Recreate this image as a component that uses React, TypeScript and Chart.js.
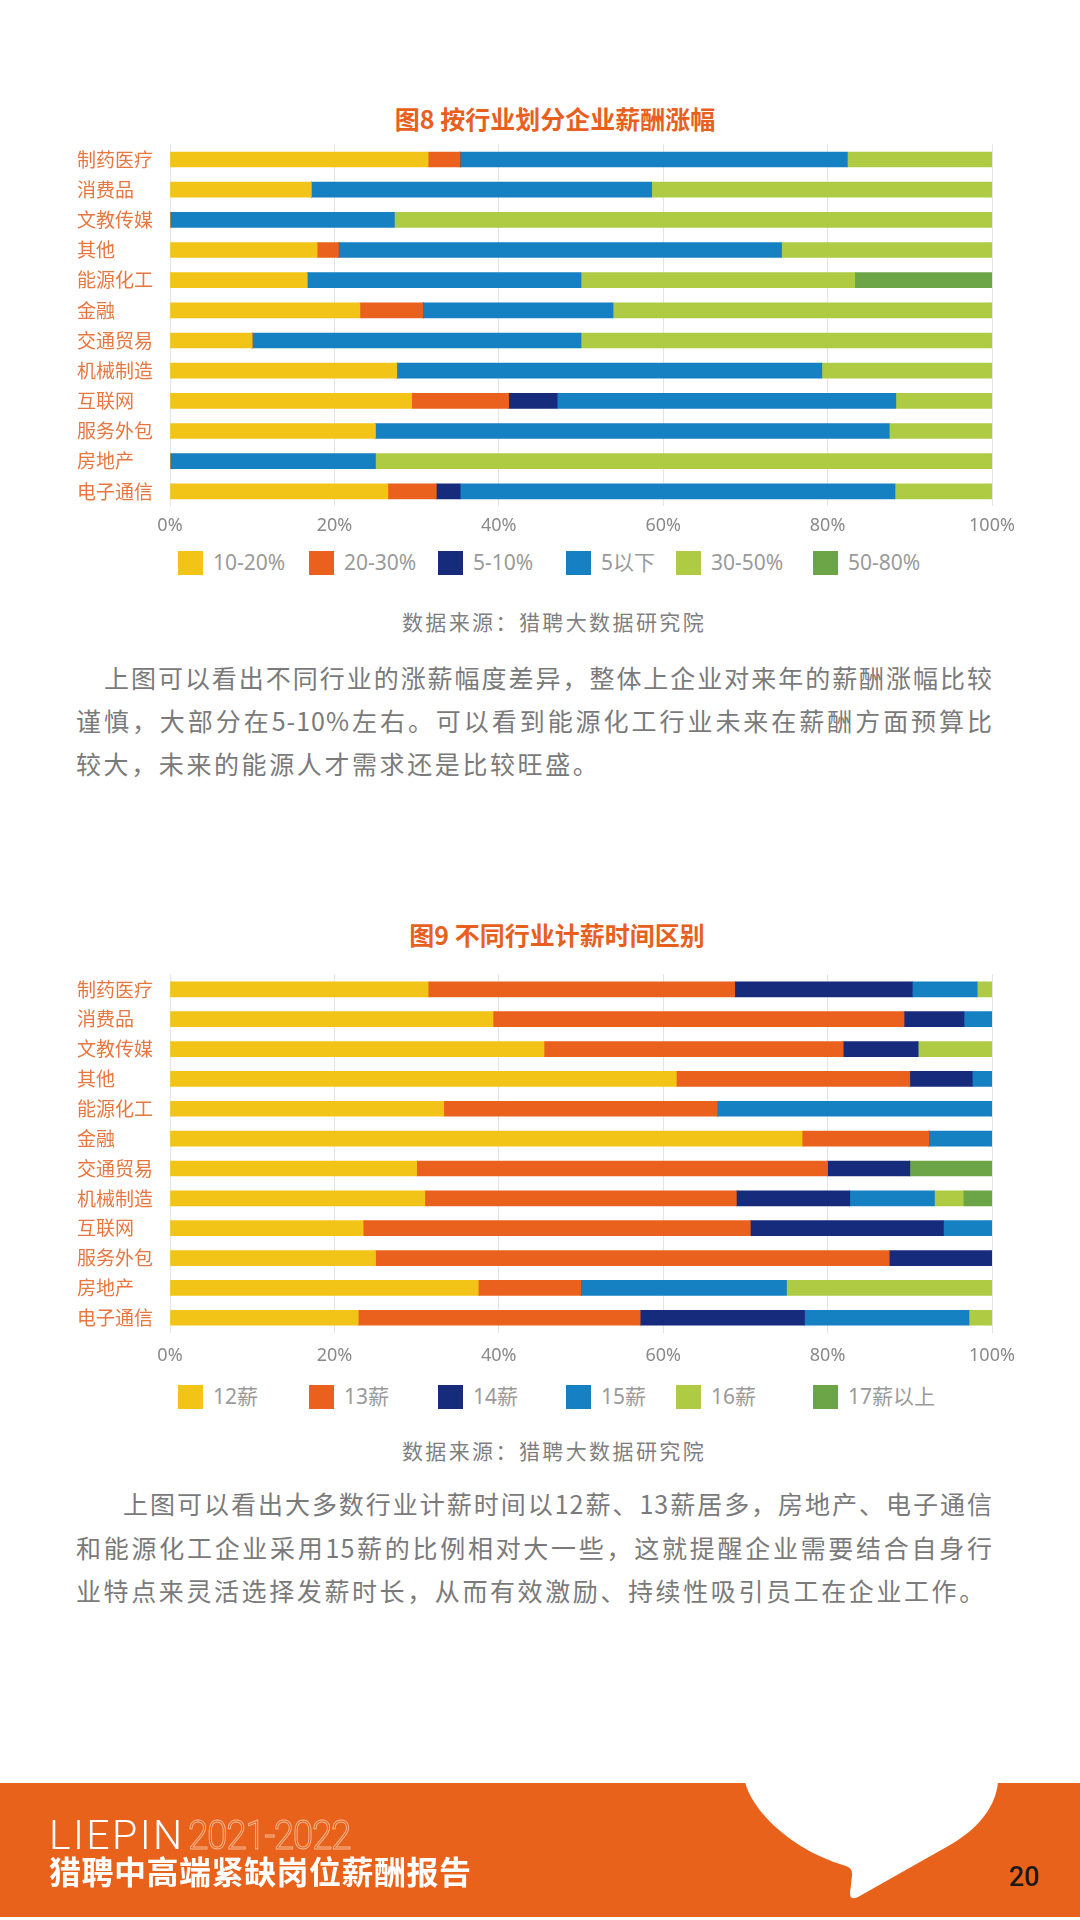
import React, { useEffect, useRef } from 'react';
import { Chart, registerables } from 'chart.js';

Chart.register(...registerables);

const industries = ['制药医疗', '消费品', '文教传媒', '其他', '能源化工', '金融', '交通贸易', '机械制造', '互联网', '服务外包', '房地产', '电子通信'];

// 图8 按行业划分企业薪酬涨幅
const fig8Series = ['10-20%', '20-30%', '5-10%', '5以下', '30-50%', '50-80%'];
const fig8Raise10to20 = [31.4, 17.2, 0, 17.9, 16.7, 23.1, 10, 27.6, 29.4, 25, 0, 26.5];
const fig8Raise20to30 = [3.9, 0, 0, 2.6, 0, 7.7, 0, 0, 11.8, 0, 0, 5.9];
const fig8Raise5to10 = [0, 0, 0, 0, 0, 0, 0, 0, 5.9, 0, 0, 2.9];
const fig8RaiseBelow5 = [47.1, 41.4, 27.3, 53.9, 33.3, 23.1, 40, 51.7, 41.2, 62.5, 25, 52.9];
const fig8Raise30to50 = [17.6, 41.4, 72.7, 25.6, 33.3, 46.1, 50, 20.7, 11.7, 12.5, 75, 11.8];
const fig8Raise50to80 = [0, 0, 0, 0, 16.7, 0, 0, 0, 0, 0, 0, 0];

// 图9 不同行业计薪时间区别
const fig9Series = ['12薪', '13薪', '14薪', '15薪', '16薪', '17薪以上'];
const fig9Pay12 = [31.4, 39.3, 45.5, 61.6, 33.3, 76.9, 30, 31.0, 23.5, 25, 37.5, 22.9];
const fig9Pay13 = [37.3, 50.0, 36.4, 28.4, 33.3, 15.4, 50, 37.9, 47.1, 62.5, 12.5, 34.3];
const fig9Pay14 = [21.6, 7.3, 9.1, 7.6, 0, 0, 10, 13.8, 23.5, 12.5, 0, 20.0];
const fig9Pay15 = [7.9, 3.4, 0, 2.4, 33.4, 7.7, 0, 10.3, 5.9, 0, 25, 20.0];
const fig9Pay16 = [1.8, 0, 9.0, 0, 0, 0, 0, 3.5, 0, 0, 25, 2.8];
const fig9Pay17Plus = [0, 0, 0, 0, 0, 0, 10, 3.5, 0, 0, 0, 0];

const xTickStep = 20;
const xMax = 100;

const palette = ['#F2C417', '#E9611C', '#172B7C', '#1581C2', '#AFCB44', '#6CA547'];

const CJK = "'Noto Sans CJK SC', 'Noto Sans', sans-serif";
const LATIN = "'Noto Sans', 'Noto Sans CJK SC', sans-serif";

type ChartProps = {
  top: number;
  height: number;
  names: string[];
  values: number[][];
  padTop: number;
  padBottom: number;
  tickPad: number;
  axisH: number;
};

function StackedBars(p: ChartProps) {
  const ref = useRef<HTMLCanvasElement>(null);
  useEffect(() => {
    const chart = new Chart(ref.current as HTMLCanvasElement, {
      type: 'bar',
      data: {
        labels: industries,
        datasets: p.names.map((n, i) => ({
          label: n,
          data: p.values[i],
          backgroundColor: palette[i],
          borderWidth: 0,
          barThickness: 15,
        })),
      },
      options: {
        indexAxis: 'y',
        responsive: false,
        animation: false,
        layout: { padding: { left: 77, right: 1080 - 992, top: p.padTop, bottom: p.padBottom } },
        plugins: {
          legend: { display: false },
          tooltip: { enabled: false },
        },
        scales: {
          x: {
            stacked: true,
            min: 0,
            max: xMax,
            ticks: {
              stepSize: xTickStep,
              callback: (v: any) => v + '%',
              color: '#8a8a8a',
              font: { family: LATIN, size: 18 },
              padding: p.tickPad,
              maxRotation: 0,
            },
            grid: { color: '#e4e4e4', drawTicks: false, lineWidth: 1 },
            border: { display: false },
            afterFit: (s: any) => { s.height = p.axisH; },
          },
          y: {
            stacked: true,
            ticks: { crossAlign: 'far', color: '#E8773F', font: { family: CJK, size: 19 } },
            grid: { display: false },
            border: { display: false },
            afterFit: (s: any) => { s.width = 93; },
          },
        },
      } as any,
    });
    return () => chart.destroy();
  }, []);
  return (
    <canvas
      ref={ref}
      width={1080}
      height={p.height}
      style={{ position: 'absolute', left: 0, top: p.top, width: 1080, height: p.height, display: 'block' }}
    />
  );
}

const legendColumns = [178, 309, 438, 566, 676, 813];

function Legend(props: { cy: number; names: string[] }) {
  return (
    <>
      {props.names.map((n, i) => (
        <React.Fragment key={n}>
          <div style={{ position: 'absolute', left: legendColumns[i], top: props.cy - 12, width: 25, height: 24, background: palette[i] }} />
          <div
            style={{
              position: 'absolute',
              left: legendColumns[i] + 35,
              top: props.cy - 11,
              height: 21,
              lineHeight: '21px',
              fontSize: 21,
              fontFamily: LATIN,
              color: '#9a9a9a',
              whiteSpace: 'nowrap',
            }}
          >
            {n}
          </div>
        </React.Fragment>
      ))}
    </>
  );
}

function CenterText(props: { cx: number; cy: number; size: number; color: string; weight?: number; ls?: number; children: React.ReactNode }) {
  const { cx, cy, size, color, weight = 400, ls = 0 } = props;
  return (
    <div
      style={{
        position: 'absolute',
        left: cx - 540,
        width: 1080,
        top: cy - size / 2,
        height: size,
        lineHeight: size + 'px',
        fontSize: size,
        fontFamily: CJK,
        fontWeight: weight,
        color,
        letterSpacing: ls,
        textAlign: 'center',
        whiteSpace: 'nowrap',
      }}
    >
      {props.children}
    </div>
  );
}

function ParaLine(props: { cy: number; indent?: number; justify?: boolean; children: React.ReactNode }) {
  const size = 25;
  return (
    <div
      style={{
        position: 'absolute',
        left: 76,
        width: 917,
        boxSizing: 'border-box',
        paddingLeft: props.indent || 0,
        top: props.cy - size / 2,
        height: size,
        lineHeight: size + 'px',
        fontSize: size,
        fontFamily: CJK,
        color: '#7a7a7a',
        letterSpacing: props.justify ? 1 : 2.6,
        textAlign: props.justify ? 'justify' : 'left',
        textAlignLast: props.justify ? 'justify' : 'left',
      } as any}
    >
      {props.children}
    </div>
  );
}

export default function App() {
  return (
    <div style={{ position: 'absolute', left: 0, top: 0, width: 1080, height: 1920, background: '#fff', overflow: 'hidden' }}>
      <CenterText cx={555} cy={118} size={25} color="#E8601D" weight={700}>图8 按行业划分企业薪酬涨幅</CenterText>
      <StackedBars
        top={130}
        height={413}
        names={fig8Series}
        values={[fig8Raise10to20, fig8Raise20to30, fig8Raise5to10, fig8RaiseBelow5, fig8Raise30to50, fig8Raise50to80]}
        padTop={11}
        padBottom={0.6}
        tickPad={9}
        axisH={36}
      />
      <Legend cy={563} names={fig8Series} />
      <CenterText cx={554} cy={621.5} size={21} color="#7f7f7f" ls={2.4}>数据来源：猎聘大数据研究院</CenterText>
      <ParaLine cy={677} indent={28} justify>上图可以看出不同行业的涨薪幅度差异，整体上企业对来年的薪酬涨幅比较</ParaLine>
      <ParaLine cy={720} justify>谨慎，大部分在5-10%左右。可以看到能源化工行业未来在薪酬方面预算比</ParaLine>
      <ParaLine cy={763}>较大，未来的能源人才需求还是比较旺盛。</ParaLine>

      <CenterText cx={557} cy={934} size={25} color="#E8601D" weight={700}>图9 不同行业计薪时间区别</CenterText>
      <StackedBars
        top={960}
        height={409}
        names={fig9Series}
        values={[fig9Pay12, fig9Pay13, fig9Pay14, fig9Pay15, fig9Pay16, fig9Pay17Plus]}
        padTop={10}
        padBottom={0.3}
        tickPad={12.5}
        axisH={36}
      />
      <Legend cy={1397} names={fig9Series} />
      <CenterText cx={554} cy={1450} size={21} color="#7f7f7f" ls={2.4}>数据来源：猎聘大数据研究院</CenterText>
      <ParaLine cy={1503} indent={47} justify>上图可以看出大多数行业计薪时间以12薪、13薪居多，房地产、电子通信</ParaLine>
      <ParaLine cy={1547} justify>和能源化工企业采用15薪的比例相对大一些，这就提醒企业需要结合自身行</ParaLine>
      <ParaLine cy={1590}>业特点来灵活选择发薪时长，从而有效激励、持续性吸引员工在企业工作。</ParaLine>

      {/* footer */}
      <div style={{ position: 'absolute', left: 0, top: 1783, width: 1080, height: 134, background: '#E9621C' }} />
      <svg width={1080} height={1920} style={{ position: 'absolute', left: 0, top: 0, pointerEvents: 'none' }}>
        <path
          d="M 745 1782 C 752 1810, 790 1850, 846 1866 Q 853 1868, 852 1876 L 850 1893 Q 850 1901, 858 1897 L 950 1845 C 980 1828, 996 1805, 998 1782 Z"
          fill="#ffffff"
        />
      </svg>
      <div
        style={{
          position: 'absolute',
          left: 49,
          top: 1814.7,
          height: 41,
          lineHeight: '41px',
          fontSize: 41,
          fontFamily: "Roboto, 'Noto Sans', sans-serif",
          fontWeight: 300,
          color: '#ffffff',
          whiteSpace: 'nowrap',
        }}
      >
        <span style={{ letterSpacing: 2.4 }}>LIEPIN</span>
        <span
          style={{
            display: 'inline-block',
            marginLeft: 3,
            letterSpacing: -1.5,
            color: 'transparent',
            WebkitTextStroke: '1px #F6B894',
            transform: 'scaleX(0.9)',
            transformOrigin: 'left center',
          } as any}
        >
          2021-2022
        </span>
      </div>
      <div
        style={{
          position: 'absolute',
          left: 49,
          top: 1854,
          height: 32,
          lineHeight: '32px',
          fontSize: 32,
          fontFamily: CJK,
          fontWeight: 700,
          color: '#ffffff',
          letterSpacing: 0.5,
          whiteSpace: 'nowrap',
        }}
      >
        猎聘中高端紧缺岗位薪酬报告
      </div>
      <div
        style={{
          position: 'absolute',
          left: 1009,
          top: 1864,
          height: 27,
          lineHeight: '27px',
          fontSize: 27,
          fontFamily: "Roboto, 'Noto Sans', sans-serif",
          fontWeight: 500,
          color: '#1a1a1a',
          whiteSpace: 'nowrap',
        }}
      >
        20
      </div>
    </div>
  );
}
